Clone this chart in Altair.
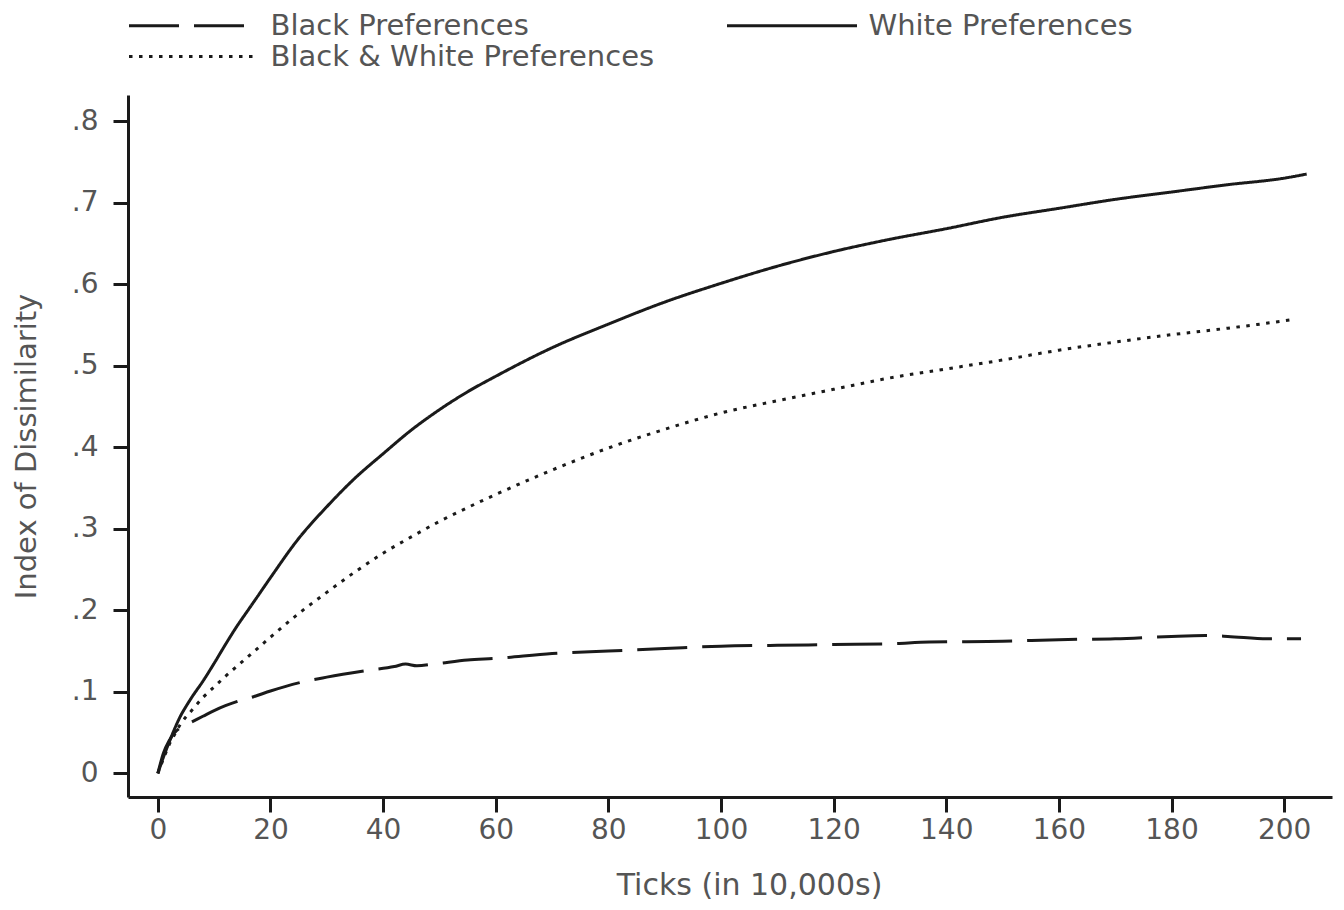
import altair as alt
import pandas as pd

# ---- data ----
series_names = ["Black Preferences", "White Preferences", "Black & White Preferences"]

black_t = [0, 1, 2, 3, 4, 6, 8, 10, 12, 14, 17, 20, 25, 30, 37, 42, 44, 46, 49, 55, 60,
           70, 80, 90, 100, 110, 120, 130, 137, 150, 160, 170, 180, 186, 190, 197, 203]
black_v = [0, 0.025, 0.040, 0.050, 0.056, 0.063, 0.070, 0.077, 0.083, 0.088, 0.094, 0.101,
           0.111, 0.118, 0.126, 0.131, 0.134, 0.132, 0.134, 0.139, 0.141, 0.147, 0.150,
           0.153, 0.156, 0.157, 0.158, 0.159, 0.161, 0.162, 0.164, 0.165, 0.168, 0.169,
           0.168, 0.165, 0.165]

white_t = [0, 1, 2, 3, 4, 5, 6, 8, 10, 12, 14, 16, 18, 20, 25, 30, 35, 40, 45, 50, 55, 60,
           70, 80, 90, 100, 110, 120, 130, 140, 150, 160, 170, 180, 190, 200, 204]
white_v = [0, 0.020, 0.038, 0.055, 0.070, 0.082, 0.093, 0.113, 0.135, 0.158, 0.180, 0.200,
           0.220, 0.240, 0.288, 0.327, 0.362, 0.392, 0.421, 0.446, 0.468, 0.487, 0.522,
           0.551, 0.578, 0.601, 0.622, 0.640, 0.655, 0.668, 0.682, 0.693, 0.704, 0.713,
           0.722, 0.730, 0.735]

bw_t = [0, 1, 2, 3, 4, 6, 8, 10, 12, 14, 16, 18, 20, 25, 30, 35, 40, 45, 50, 55, 60, 70,
        80, 90, 100, 110, 120, 130, 140, 150, 160, 170, 180, 190, 200, 202]
bw_v = [0, 0.018, 0.035, 0.048, 0.060, 0.077, 0.093, 0.106, 0.119, 0.131, 0.143, 0.155,
        0.167, 0.196, 0.222, 0.247, 0.270, 0.290, 0.309, 0.326, 0.342, 0.372, 0.399,
        0.422, 0.442, 0.457, 0.471, 0.485, 0.496, 0.507, 0.519, 0.529, 0.538, 0.546,
        0.555, 0.557]

x_ticks = [0, 20, 40, 60, 80, 100, 120, 140, 160, 180, 200]
y_ticks = [0, 0.1, 0.2, 0.3, 0.4, 0.5, 0.6, 0.7, 0.8]

rows = []
for name, ts, vs in [(series_names[0], black_t, black_v),
                     (series_names[1], white_t, white_v),
                     (series_names[2], bw_t, bw_v)]:
    for t, v in zip(ts, vs):
        rows.append({"t": t, "value": v, "series": name})
df = pd.DataFrame(rows)

FONT = "DejaVu Sans"
TEXT = "#555555"
INK = "#1a1a1a"

chart = alt.Chart(df).mark_line(strokeWidth=3, color=INK, interpolate="monotone").encode(
    x=alt.X("t:Q",
            scale=alt.Scale(domain=[-5.3, 208.5], nice=False, zero=False),
            axis=alt.Axis(title="Ticks (in 10,000s)", values=x_ticks, grid=False,
                          domainColor=INK, domainWidth=3, tickColor=INK, tickWidth=3,
                          tickSize=15, labelFont=FONT, labelFontSize=28, labelColor=TEXT,
                          labelPadding=4, labelFlush=False,
                          titleFont=FONT, titleFontSize=30, titleColor=TEXT,
                          titleFontWeight="normal", titleX=621, titleY=73,
                          titleBaseline="top")),
    y=alt.Y("value:Q",
            scale=alt.Scale(domain=[-0.029, 0.832], nice=False, zero=False),
            axis=alt.Axis(title="Index of Dissimilarity", values=y_ticks, grid=False,
                          labelExpr="datum.value == 0 ? '0' : replace(format(datum.value, '.1f'), '0.', '.')",
                          domainColor=INK, domainWidth=3, tickColor=INK, tickWidth=3,
                          tickSize=15, labelFont=FONT, labelFontSize=28, labelColor=TEXT,
                          labelPadding=15, labelFlush=False,
                          titleFont=FONT, titleFontSize=29, titleColor=TEXT,
                          titleFontWeight="normal", titlePadding=30)),
    strokeDash=alt.StrokeDash(
        "series:N",
        sort=series_names,
        scale=alt.Scale(domain=series_names, range=[[50, 15], [1, 0], [3.5, 6.5]]),
        legend=alt.Legend(title=None, orient="none", legendX=-13.5, legendY=-84,
                          direction="horizontal", columns=2, columnPadding=58,
                          rowPadding=1, padding=0,
                          symbolType="M0,0H13", symbolSize=400, symbolStrokeWidth=3,
                          symbolStrokeColor=INK, symbolFillColor="transparent",
                          labelOffset=127, labelFont=FONT, labelFontSize=29,
                          labelColor=TEXT, labelLimit=600)),
    detail="series:N",
).properties(
    width=1204,
    height=702,
    autosize=alt.AutoSizeParams(type="none"),
    padding={"left": 120, "top": 87, "right": 4, "bottom": 105},
    background="white",
).configure_view(stroke="transparent")

chart.save("out.html", embed_options={"renderer": "svg", "actions": False})
